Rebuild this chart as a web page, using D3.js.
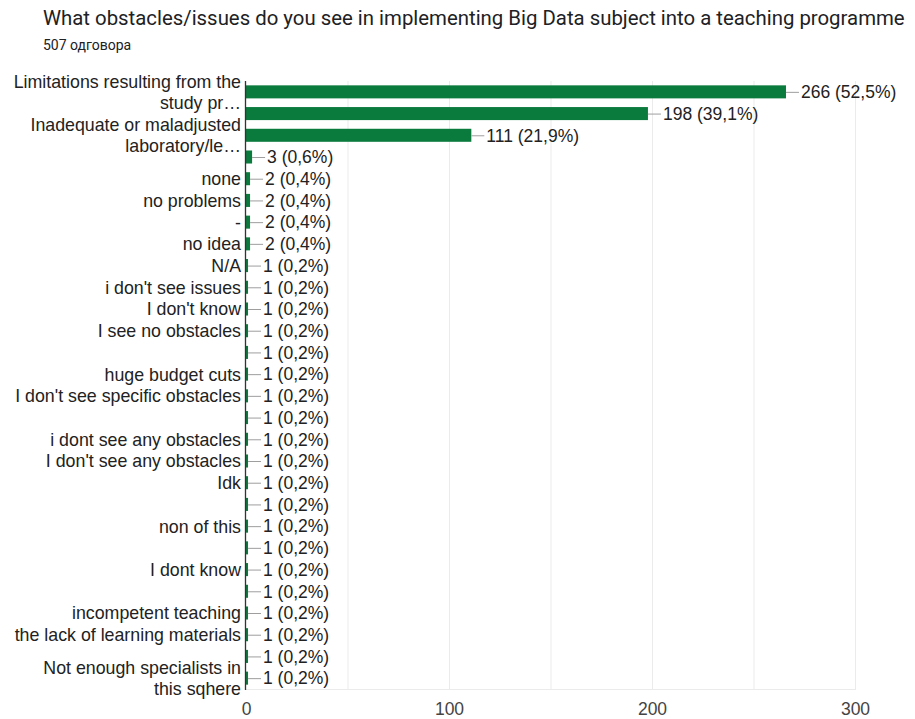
<!DOCTYPE html>
<html>
<head>
<meta charset="utf-8">
<script src="https://cdn.jsdelivr.net/npm/d3@7"></script>
<style>
  html, body { margin: 0; padding: 0; background: #fff; }
  svg { display: block; }
</style>
</head>
<body>
<svg id="chart" width="915" height="719"></svg>
<script>
const titleText = "What obstacles/issues do you see in implementing Big Data subject into a teaching programme";
const subtitleText = "507 одговора";
const totalResponses = 507;

const categories = [
  ["Limitations resulting from the", "study pr…"],
  [""],
  ["Inadequate or maladjusted", "laboratory/le…"],
  [""],
  ["none"],
  ["no problems"],
  ["-"],
  ["no idea"],
  ["N/A"],
  ["i don't see issues"],
  ["I don't know"],
  ["I see no obstacles"],
  [""],
  ["huge budget cuts"],
  ["I don't see specific obstacles"],
  [""],
  ["i dont see any obstacles"],
  ["I don't see any obstacles"],
  ["Idk"],
  [""],
  ["non of this"],
  [""],
  ["I dont know"],
  [""],
  ["incompetent teaching"],
  ["the lack of learning materials"],
  [""],
  ["Not enough specialists in", "this sqhere"]
];
const values = [266, 198, 111, 3, 2, 2, 2, 2, 1, 1, 1, 1, 1, 1, 1, 1, 1, 1, 1, 1, 1, 1, 1, 1, 1, 1, 1, 1];
const xTicks = [0, 100, 200, 300];
const xGrid = [50, 100, 150, 200, 250, 300];

(function () {
const svg = d3.select("#chart");
const mLeft = 246, mRight = 855, mTop = 81, mBottom = 689;
const barColor = "#0b7a3d";
const labelFont = "'Liberation Sans', Arial, sans-serif";
const fs = 17.8;
const vfs = 17.5;

const x = d3.scaleLinear().domain([0, 300]).range([mLeft, mRight]);
const y = d3.scaleBand().domain(d3.range(values.length)).range([mTop, mBottom]).paddingInner(0.4).paddingOuter(0.2);

// title
const title = svg.append("text")
  .attr("x", 43).attr("y", 25)
  .attr("font-family", "Roboto, sans-serif")
  .attr("font-size", 20)
  .attr("fill", "#202124")
  .text(titleText);
const tw = title.node().getComputedTextLength();
title.attr("font-size", 20 * 862 / tw);

svg.append("text")
  .attr("x", 43).attr("y", 50)
  .attr("font-family", "Roboto, sans-serif")
  .attr("font-size", 14)
  .attr("fill", "#202124")
  .text(subtitleText);

// gridlines
svg.append("g").selectAll("line").data(xGrid).join("line")
  .attr("x1", d => x(d) + 0.5).attr("x2", d => x(d) + 0.5)
  .attr("y1", mTop).attr("y2", mBottom)
  .attr("stroke", "#ebebeb").attr("stroke-width", 1);
svg.append("line")
  .attr("x1", mLeft).attr("x2", mRight + 1)
  .attr("y1", mBottom + 0.5).attr("y2", mBottom + 0.5)
  .attr("stroke", "#ebebeb");

// bars
const rows = values.map((v, i) => ({ i, v, label: categories[i] }));
svg.append("g").selectAll("rect").data(rows).join("rect")
  .attr("x", x(0))
  .attr("y", d => y(d.i))
  .attr("width", d => Math.max(2, x(d.v) - x(0)))
  .attr("height", y.bandwidth())
  .attr("fill", barColor);

// leader lines and value labels
const fmt = d => d.v + " (" + (d.v / totalResponses * 100).toFixed(1).replace(".", ",") + "%)";
const endX = d => Math.max(x(0) + 2, x(d.v));
svg.append("g").selectAll("line").data(rows).join("line")
  .attr("x1", endX)
  .attr("x2", d => endX(d) + 13)
  .attr("y1", d => y(d.i) + y.bandwidth() / 2 + 0.5)
  .attr("y2", d => y(d.i) + y.bandwidth() / 2 + 0.5)
  .attr("stroke", "#9e9e9e").attr("stroke-width", 1);
svg.append("g").selectAll("text").data(rows).join("text")
  .attr("x", d => endX(d) + 15)
  .attr("y", d => y(d.i) + y.bandwidth() / 2)
  .attr("dy", "0.36em")
  .attr("font-family", labelFont)
  .attr("font-size", vfs)
  .attr("fill", "#222")
  .text(fmt);

// category labels
const lineH = 21.5;
const lab = svg.append("g").selectAll("text").data(rows).join("text")
  .attr("x", mLeft - 5)
  .attr("y", d => y(d.i) + y.bandwidth() / 2)
  .attr("text-anchor", "end")
  .attr("font-family", labelFont)
  .attr("font-size", fs)
  .attr("fill", "#222");
lab.selectAll("tspan").data(d => d.label.map((t, k) => ({ t, k, n: d.label.length }))).join("tspan")
  .attr("x", mLeft - 5)
  .attr("dy", s => s.k === 0 ? (0.36 * fs - (s.n - 1) * lineH / 2) : lineH)
  .text(s => s.t);

// axis baseline
svg.append("line")
  .attr("x1", x(0) - 0.5).attr("x2", x(0) - 0.5)
  .attr("y1", mTop).attr("y2", mBottom + 1)
  .attr("stroke", "#333").attr("stroke-width", 1.3);

// x axis
const axis = svg.append("g").attr("transform", `translate(0,${mBottom})`)
  .call(d3.axisBottom(x).tickValues(xTicks).tickSize(0).tickPadding(14));
axis.select(".domain").remove();
axis.selectAll("text")
  .attr("font-family", labelFont)
  .attr("font-size", vfs)
  .attr("fill", "#444");
})();
</script>
</body>
</html>
